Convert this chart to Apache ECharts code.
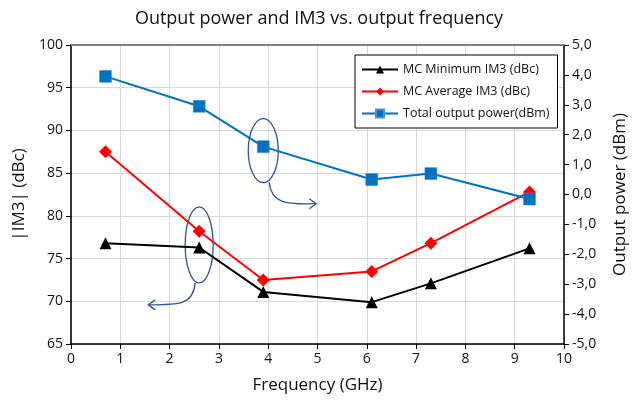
<!DOCTYPE html>
<html>
<head>
<meta charset="utf-8">
<script src="https://cdn.jsdelivr.net/npm/echarts@6/dist/echarts.min.js"></script>
<style>
  html, body { margin: 0; padding: 0; background: #fff; }
  #chart { width: 638px; height: 402px; }
</style>
</head>
<body>
<div id="chart"></div>
<script>
// --- data ---
const freqs = [0.7, 2.6, 3.9, 6.1, 7.3, 9.3];
const imMin = [76.8, 76.3, 71.1, 69.9, 72.1, 76.2];
const imAvg = [87.5, 78.2, 72.5, 73.5, 76.8, 82.8];
const powerOut = [3.95, 2.95, 1.6, 0.5, 0.7, -0.15];
const xTicks = [0, 10, 1];
const leftTicks = [65, 100, 5];
const rightTicks = [-5, 5, 1];

const FONT = '"Open Sans", "Noto Sans", sans-serif';
const pair = (ys) => freqs.map((f, i) => [f, ys[i]]);
const tickStyle = { show: true, inside: false, length: 5, lineStyle: { color: '#000' } };

const chart = echarts.init(document.getElementById('chart'));

chart.setOption({
  animation: false,
  textStyle: { fontFamily: FONT, color: '#222' },
  title: {
    text: 'Output power and IM3 vs. output frequency',
    left: 'center', top: 5,
    textStyle: { fontFamily: FONT, fontSize: 18, fontWeight: 'normal', color: '#111' },
  },
  legend: {
    orient: 'vertical',
    left: 355, top: 55,
    padding: [8, 8, 8, 6],
    itemGap: 9,
    itemWidth: 36, itemHeight: 10,
    borderColor: '#000', borderWidth: 1,
    backgroundColor: '#fff',
    textStyle: { fontFamily: FONT, fontSize: 12.5, color: '#111' },
    data: ['MC Minimum IM3 (dBc)', 'MC Average IM3 (dBc)', 'Total output power(dBm)'],
  },
  grid: { left: 71, right: 74, top: 45, bottom: 58 },
  xAxis: {
    type: 'value', min: xTicks[0], max: xTicks[1], interval: xTicks[2],
    name: 'Frequency (GHz)', nameLocation: 'middle', nameGap: 33,
    nameTextStyle: { fontSize: 17, color: '#111' },
    axisLine: { onZero: false, lineStyle: { color: '#000', width: 1.5 } },
    axisTick: tickStyle,
    axisLabel: { fontSize: 14, color: '#111', margin: 8 },
    splitLine: { show: true, lineStyle: { color: '#d9d9d9' } },
  },
  yAxis: [
    {
      type: 'value', min: leftTicks[0], max: leftTicks[1], interval: leftTicks[2],
      name: '|IM3| (dBc)', nameLocation: 'middle', nameGap: 40,
      nameTextStyle: { fontSize: 17, color: '#111' },
      axisLine: { show: true, onZero: false, lineStyle: { color: '#333', width: 2 } },
      axisTick: tickStyle,
      axisLabel: { fontSize: 14, color: '#111', margin: 8 },
      splitLine: { show: true, lineStyle: { color: '#d9d9d9' } },
    },
    {
      type: 'value', min: rightTicks[0], max: rightTicks[1], interval: rightTicks[2],
      position: 'right',
      name: 'Output power (dBm)', nameLocation: 'middle', nameGap: 48,
      nameRotate: 90,
      nameTextStyle: { fontSize: 17, color: '#111' },
      axisLine: { show: true, onZero: false, lineStyle: { color: '#000', width: 1.5 } },
      axisTick: tickStyle,
      axisLabel: { fontSize: 14, color: '#111', margin: 8, formatter: v => v.toFixed(1).replace('.', ',') },
      splitLine: { show: false },
    },
  ],
  series: [
    {
      name: 'MC Minimum IM3 (dBc)', type: 'line', yAxisIndex: 0, data: pair(imMin),
      symbol: 'triangle', symbolSize: 12,
      lineStyle: { color: '#000', width: 2 }, itemStyle: { color: '#000' }, z: 3,
    },
    {
      name: 'MC Average IM3 (dBc)', type: 'line', yAxisIndex: 0, data: pair(imAvg),
      symbol: 'diamond', symbolSize: 13,
      lineStyle: { color: '#ff0000', width: 2 }, itemStyle: { color: '#ff0000' }, z: 4,
    },
    {
      name: 'Total output power(dBm)', type: 'line', yAxisIndex: 1, data: pair(powerOut),
      symbol: 'rect', symbolSize: 12,
      lineStyle: { color: '#0070c0', width: 2 }, itemStyle: { color: '#0070c0', borderColor: '#4a8fd0', borderWidth: 0.5 }, z: 5,
    },
    {
      // top border of the plot area
      type: 'line', yAxisIndex: 0, data: [[xTicks[0], leftTicks[1]], [xTicks[1], leftTicks[1]]],
      symbol: 'none', silent: true, lineStyle: { color: '#808080', width: 2 }, z: 1,
    },
  ],
});

// --- ellipses + arrows pointing to the axis each series belongs to ---
function annotations() {
  const c1 = chart.convertToPixel({ gridIndex: 0 }, [2.6, 76.6]);
  const p2 = chart.convertToPixel({ xAxisIndex: 0, yAxisIndex: 1 }, [3.9, 1.6]);
  const c2 = [p2[0], p2[1] + 4];
  const ac = '#2f5597';
  const ls = { stroke: ac, lineWidth: 1.3, fill: null };
  return [
    { type: 'ellipse', shape: { cx: c1[0], cy: c1[1], rx: 14, ry: 38 }, style: { ...ls } },
    { type: 'bezierCurve', shape: { x1: c1[0] - 4, y1: c1[1] + 38, cpx1: c1[0] - 6, cpy1: c1[1] + 60, x2: c1[0] - 50, y2: c1[1] + 60, cpx2: c1[0] - 20, cpy2: c1[1] + 60 }, style: { ...ls } },
    { type: 'polyline', shape: { points: [[c1[0] - 44, c1[1] + 55], [c1[0] - 51, c1[1] + 60], [c1[0] - 44, c1[1] + 65]] }, style: { ...ls } },
    { type: 'ellipse', shape: { cx: c2[0], cy: c2[1], rx: 15, ry: 32 }, style: { ...ls } },
    { type: 'bezierCurve', shape: { x1: c2[0] + 6, y1: c2[1] + 32, cpx1: c2[0] + 8, cpy1: c2[1] + 52, x2: c2[0] + 52, y2: c2[1] + 53, cpx2: c2[0] + 22, cpy2: c2[1] + 54 }, style: { ...ls } },
    { type: 'polyline', shape: { points: [[c2[0] + 46, c2[1] + 48], [c2[0] + 53, c2[1] + 53], [c2[0] + 46, c2[1] + 58]] }, style: { ...ls } },
  ];
}
chart.setOption({ graphic: { elements: annotations() } });
</script>
</body>
</html>
